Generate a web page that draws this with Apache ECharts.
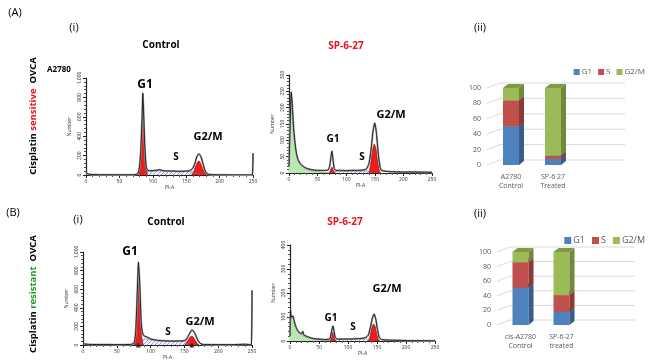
<!DOCTYPE html>
<html>
<head>
<meta charset="utf-8">
<script src="https://cdn.jsdelivr.net/npm/echarts@6/dist/echarts.min.js"></script>
<style>
  html, body { margin: 0; padding: 0; background: #fff; }
  #main { width: 650px; height: 364px; }
</style>
</head>
<body>
<div id="main"></div>
<script>
// ---- histogram data (PI-A, count) ----
// (A) control
var ctrlAOutline = [[0,30],[2,15],[5,8],[10,5],[20,3],[40,2],[60,2],[70,3],[75,6],[78,20],[80,80],[82,250],[84,600],[85,845],[86,700],[88,300],[90,90],[92,50],[95,45],[100,45],[105,48],[110,55],[115,45],[120,42],[130,40],[140,38],[150,40],[155,45],[160,70],[163,120],[166,190],[169,216],[172,190],[175,120],[178,50],[181,15],[185,5],[190,3],[200,2],[220,1],[240,1],[249,1],[250,225]];
var ctrlAG1 = [[77,0],[79,30],[81,150],[83,420],[85,620],[86,580],[88,280],[90,70],[92,0]];
var ctrlAG2M = [[158,0],[161,30],[164,90],[167,135],[169,145],[171,130],[174,80],[177,30],[180,5],[182,0]];
var ctrlAS = [[88,0],[90,30],[95,40],[100,40],[110,42],[120,38],[130,36],[140,35],[150,36],[158,35],[165,20],[170,0]];
// (A) SP-6-27
var spAOutline = [[0,20],[2,150],[4,248],[6,200],[8,140],[10,100],[13,60],[16,40],[20,28],[25,20],[30,15],[35,12],[40,10],[50,8],[60,8],[68,9],[71,20],[73,45],[75,67],[77,40],[79,15],[82,8],[90,8],[100,7],[110,8],[120,8],[130,9],[135,12],[140,30],[144,80],[147,130],[150,153],[153,120],[156,60],[159,20],[162,8],[170,5],[180,4],[200,3],[220,3],[250,2]];
var spADebris = [[0,20],[2,150],[4,240],[6,195],[8,135],[10,95],[13,55],[16,35],[20,25],[25,18],[30,12],[40,7],[50,4],[60,2],[70,0]];
var spAG1 = [[70,0],[72,6],[74,15],[75,18],[76,15],[78,6],[80,0]];
var spAG2M = [[140,0],[143,30],[146,70],[149,89],[152,75],[155,35],[158,8],[160,0]];
var spAS = [[78,0],[80,5],[100,6],[120,6],[138,6],[142,0]];
// (B) control
var ctrlBOutline = [[0,15],[3,10],[10,6],[30,5],[50,4],[65,5],[72,8],[76,30],[78,150],[80,500],[82,892],[84,650],[86,250],[88,130],[90,100],[93,90],[96,80],[100,65],[110,50],[120,45],[130,42],[140,42],[148,45],[153,60],[156,100],[159,140],[161,160],[164,145],[167,100],[170,50],[173,20],[176,8],[180,5],[200,4],[220,4],[240,8],[245,5],[249,3],[250,590]];
var ctrlBG1 = [[75,0],[77,50],[79,300],[81,650],[82,720],[83,650],[85,300],[87,80],[89,0]];
var ctrlBG2M = [[150,0],[153,20],[156,60],[159,90],[161,95],[163,85],[166,50],[169,15],[172,0]];
var ctrlBS = [[85,0],[88,60],[92,65],[100,55],[110,45],[120,40],[130,38],[140,38],[150,40],[156,30],[162,0]];
var ctrlBMarkers = [[82,0],[161,0]];
// (B) SP-6-27
var spBOutline = [[0,20],[1,130],[2,100],[4,100],[5,105],[7,85],[10,60],[13,45],[16,35],[20,30],[22,40],[24,25],[30,18],[40,10],[50,8],[60,6],[68,8],[70,20],[72,45],[74,62],[76,40],[78,15],[82,8],[90,8],[100,8],[110,9],[120,10],[130,14],[135,25],[139,60],[142,95],[145,112],[148,90],[151,45],[154,15],[158,6],[170,4],[200,2],[250,1]];
var spBDebris = [[0,20],[1,120],[2,95],[4,95],[5,100],[7,80],[10,55],[13,40],[16,30],[20,25],[24,20],[30,14],[40,8],[50,5],[60,3],[70,0]];
var spBG1 = [[69,0],[71,15],[73,35],[74,37],[75,33],[77,12],[79,0]];
var spBG2M = [[135,0],[138,20],[141,55],[144,71],[147,60],[150,25],[153,5],[155,0]];
var spBS = [[79,0],[82,6],[100,7],[120,8],[132,9],[136,0]];

// ---- cell cycle distribution (%) ----
var catsA = ['A2780\nControl', 'SP-6 27\nTreated'];
var g1A = [50, 8];
var sA = [34, 4];
var g2mA = [16, 88];
var catsB = ['cis-A2780\nControl', 'SP-6-27\ntreated'];
var g1B = [51, 18];
var sB = [35, 23];
var g2mB = [14, 59];
var pctTicks = [0, 20, 40, 60, 80, 100];

var phaseColors = {
	G1: ['#4f81bd', '#385d8a', '#3d6696'],
	S: ['#c0504d', '#8c3836', '#9c3f3c'],
	'G2/M': ['#9bbb59', '#71893f', '#7f9a47']
};

var chart = echarts.init(document.getElementById('main'));

// hatch pattern for S phase
var hatch = document.createElement('canvas');
hatch.width = 4; hatch.height = 4;
(function () {
	var c = hatch.getContext('2d');
	c.fillStyle = '#f2f3fa';
	c.fillRect(0, 0, 4, 4);
	c.strokeStyle = '#7283bd';
	c.lineWidth = 0.7;
	c.beginPath();
	c.moveTo(0, 4); c.lineTo(4, 0);
	c.stroke();
})();

function histX(gi) {
	return {
		type: 'value', gridIndex: gi, min: 0, max: 250, interval: 50,
		name: 'PI-A', nameLocation: 'middle', nameGap: 9,
		nameTextStyle: { fontSize: 5, color: '#333' },
		axisLine: { lineStyle: { color: '#222', width: 1 } },
		axisTick: { length: 3, lineStyle: { color: '#222' } },
		minorTick: { show: true, splitNumber: 5, length: 2, lineStyle: { color: '#555' } },
		axisLabel: { fontSize: 5, color: '#333', margin: 4 },
		splitLine: { show: false }
	};
}
function histY(gi, max, step) {
	return {
		type: 'value', gridIndex: gi, min: 0, max: max, interval: step,
		name: 'Number', nameLocation: 'middle', nameGap: 14, nameRotate: 90,
		nameTextStyle: { fontSize: 5, color: '#333' },
		axisLine: { show: true, lineStyle: { color: '#222', width: 1.2 } },
		axisTick: { show: true, length: 3, lineStyle: { color: '#222' } },
		minorTick: { show: true, splitNumber: 5, length: 2, lineStyle: { color: '#555' } },
		axisLabel: { fontSize: 5, color: '#333', rotate: 90, margin: 4 },
		splitLine: { show: false }
	};
}
function barX(gi, cats) {
	return {
		type: 'category', gridIndex: gi, data: cats,
		axisLine: { show: false }, axisTick: { show: false },
		axisLabel: { fontSize: 7, color: '#595959', margin: 7, lineHeight: 9, fontFamily: 'Open Sans' }
	};
}
function barY(gi) {
	return {
		type: 'value', gridIndex: gi, min: 0, max: 100, interval: 20,
		axisLine: { show: false }, axisTick: { show: false },
		axisLabel: { fontSize: 7, color: '#595959', margin: 9, fontFamily: 'Open Sans' },
		splitLine: { show: false }
	};
}

function lineSeries(gi, data, opt) {
	var s = {
		type: 'line', xAxisIndex: gi, yAxisIndex: gi, data: data,
		showSymbol: false, symbol: 'none', silent: true, smooth: 0.2,
		lineStyle: { color: '#111', width: 0.9 }
	};
	for (var k in opt) s[k] = opt[k];
	return s;
}
function fillSeries(gi, data, fill, edge) {
	return lineSeries(gi, data, {
		lineStyle: { color: edge, width: 0.6 },
		areaStyle: { color: fill, opacity: 1 }
	});
}
function histSeries(gi, outline, g1, g2m, sph, debris) {
	var out = [];
	if (debris) out.push(fillSeries(gi, debris, '#b9e8b3', '#49a046'));
	out.push(fillSeries(gi, sph, { image: hatch, repeat: 'repeat' }, '#6b7cb8'));
	out.push(fillSeries(gi, g1, '#ee1c1c', '#6a0c0c'));
	out.push(fillSeries(gi, g2m, '#ee1c1c', '#6a0c0c'));
	out.push(lineSeries(gi, outline, { lineStyle: { color: '#a8a8a8', width: 2 }, z: 3 }));
	out.push(lineSeries(gi, outline, { z: 4 }));
	return out;
}

// 3D stacked bar, drawn with the axis scales
var DX = 5, DY = 4, BW = 16;
function stacked(gi, name, lows, highs) {
	var data = lows.map(function (lo, i) { return [i, lo, highs[i]]; });
	var col = phaseColors[name];
	return {
		type: 'custom', name: name, xAxisIndex: gi, yAxisIndex: gi,
		itemStyle: { color: col[0] },
		encode: { x: 0, y: [1, 2] },
		data: data,
		renderItem: function (params, api) {
			var p0 = api.coord([api.value(0), api.value(1)]);
			var p1 = api.coord([api.value(0), api.value(2)]);
			var x0 = p0[0] - BW / 2, x1 = x0 + BW;
			return {
				type: 'group',
				children: [
					{ type: 'rect', shape: { x: x0, y: p1[1], width: BW, height: p0[1] - p1[1] }, style: { fill: col[0] } },
					{ type: 'polygon', shape: { points: [[x1, p1[1]], [x1 + DX, p1[1] - DY], [x1 + DX, p0[1] - DY], [x1, p0[1]]] }, style: { fill: col[1] } },
					{ type: 'polygon', shape: { points: [[x0, p1[1]], [x0 + DX, p1[1] - DY], [x1 + DX, p1[1] - DY], [x1, p1[1]]] }, style: { fill: col[2] } }
				]
			};
		}
	};
}
function cum(a, b) { return a.map(function (v, i) { return v + (b ? b[i] : 0); }); }
function barSeries(gi, g1, s, g2m, extend) {
	var zero = g1.map(function () { return 0; });
	var top1 = cum(g1), top2 = cum(g1, s), top3 = cum(top2, g2m);
	return [
		{
			type: 'custom', xAxisIndex: gi, yAxisIndex: gi, silent: true, z: 1,
			data: pctTicks.map(function (v) { return [0, v]; }),
			renderItem: function (params, api) {
				var cs = params.coordSys;
				var p = api.coord([0, api.value(1)]);
				return {
					type: 'polyline',
					shape: { points: [[cs.x - 3, p[1]], [cs.x + 10, p[1] - 5], [cs.x + cs.width + extend, p[1] - 5]] },
					style: { stroke: '#d9d9d9', lineWidth: 1, fill: null }
				};
			}
		},
		stacked(gi, 'G1', zero, top1),
		stacked(gi, 'S', top1, top2),
		stacked(gi, 'G2/M', top2, top3)
	];
}

var txt = function (x, y, text, size, color, weight) {
	return {
		type: 'text', x: x, y: y,
		style: {
			text: text, fontSize: size, fill: color || '#000', fontWeight: weight || 'bold',
			fontFamily: 'Open Sans', align: 'center', verticalAlign: 'middle'
		}
	};
};
function vertical(x, y, word, color) {
	return {
		type: 'text', x: x, y: y, rotation: Math.PI / 2,
		style: {
			text: '{a|Cisplatin }{c|' + word + '}{a|  OVCA}',
			align: 'center', verticalAlign: 'middle',
			rich: {
				a: { fontSize: 9.5, fontWeight: 'bold', fill: '#000', fontFamily: 'Open Sans' },
				c: { fontSize: 9.5, fontWeight: 'bold', fill: color, fontFamily: 'Open Sans' }
			}
		}
	};
}

var series = []
	.concat(histSeries(0, ctrlAOutline, ctrlAG1, ctrlAG2M, ctrlAS))
	.concat(histSeries(1, spAOutline, spAG1, spAG2M, spAS, spADebris))
	.concat(histSeries(2, ctrlBOutline, ctrlBG1, ctrlBG2M, ctrlBS))
	.concat(histSeries(3, spBOutline, spBG1, spBG2M, spBS, spBDebris))
	.concat(barSeries(4, g1A, sA, g2mA, 51))
	.concat(barSeries(5, g1B, sB, g2mB, 53));
series.push({
	type: 'scatter', xAxisIndex: 2, yAxisIndex: 2, data: ctrlBMarkers,
	symbol: 'triangle', symbolSize: 5, itemStyle: { color: '#111' }, silent: true, z: 5
});

chart.setOption({
	animation: false,
	textStyle: { fontFamily: 'Open Sans' },
	grid: [
		{ left: 86, top: 78, width: 167, height: 97, outerBoundsMode: 'none' },
		{ left: 289, top: 75, width: 143, height: 98, outerBoundsMode: 'none' },
		{ left: 83, top: 252, width: 169, height: 93, outerBoundsMode: 'none' },
		{ left: 290, top: 245, width: 145, height: 96, outerBoundsMode: 'none' },
		{ left: 490, top: 88, width: 84, height: 77, outerBoundsMode: 'none' },
		{ left: 500, top: 252, width: 82, height: 73, outerBoundsMode: 'none' }
	],
	xAxis: [histX(0), histX(1), histX(2), histX(3), barX(4, catsA), barX(5, catsB)],
	yAxis: [histY(0, 1000, 200), histY(1, 300, 50), histY(2, 1000, 200), histY(3, 400, 100), barY(4), barY(5)],
	legend: [
		{ data: ['G1', 'S', 'G2/M'], right: 5, top: 68, padding: 0, width: 140, itemWidth: 6, itemHeight: 6, itemGap: 6, icon: 'rect',
			textStyle: { fontSize: 8, color: '#595959', padding: [0, 0, 0, -3] }, selectedMode: false },
		{ data: ['G1', 'S', 'G2/M'], right: 5, top: 236, padding: 0, width: 140, itemWidth: 7, itemHeight: 7, itemGap: 7, icon: 'rect',
			textStyle: { fontSize: 9, color: '#595959', padding: [0, 0, 0, -3] }, selectedMode: false }
	],
	graphic: [
		txt(15, 13, '(A)', 11, '#000', 'normal'),
		txt(74, 28, '(i)', 11, '#000', 'normal'),
		txt(161, 45, 'Control', 10),
		txt(346, 46, 'SP-6-27', 10, '#e8141b'),
		txt(480, 28, '(ii)', 11, '#000', 'normal'),
		txt(59, 70, 'A2780', 8),
		vertical(33, 116, 'sensitive', '#e8141b'),
		txt(145, 85, 'G1', 12),
		txt(176, 157, 'S', 10),
		txt(208, 137, 'G2/M', 11),
		txt(333, 139, 'G1', 10),
		txt(362, 157, 'S', 10),
		txt(391, 115, 'G2/M', 11),
		txt(13, 213, '(B)', 11, '#000', 'normal'),
		txt(78, 220, '(i)', 11, '#000', 'normal'),
		txt(166, 222, 'Control', 10),
		txt(345, 222, 'SP-6-27', 10, '#e8141b'),
		txt(480, 214, '(ii)', 11, '#000', 'normal'),
		vertical(33, 294, 'resistant', '#1f9d2a'),
		txt(130, 252, 'G1', 12),
		txt(168, 332, 'S', 10),
		txt(200, 322, 'G2/M', 11),
		txt(331, 318, 'G1', 10),
		txt(353, 327, 'S', 10),
		txt(387, 289, 'G2/M', 11)
	],
	series: series
});
</script>
</body>
</html>
